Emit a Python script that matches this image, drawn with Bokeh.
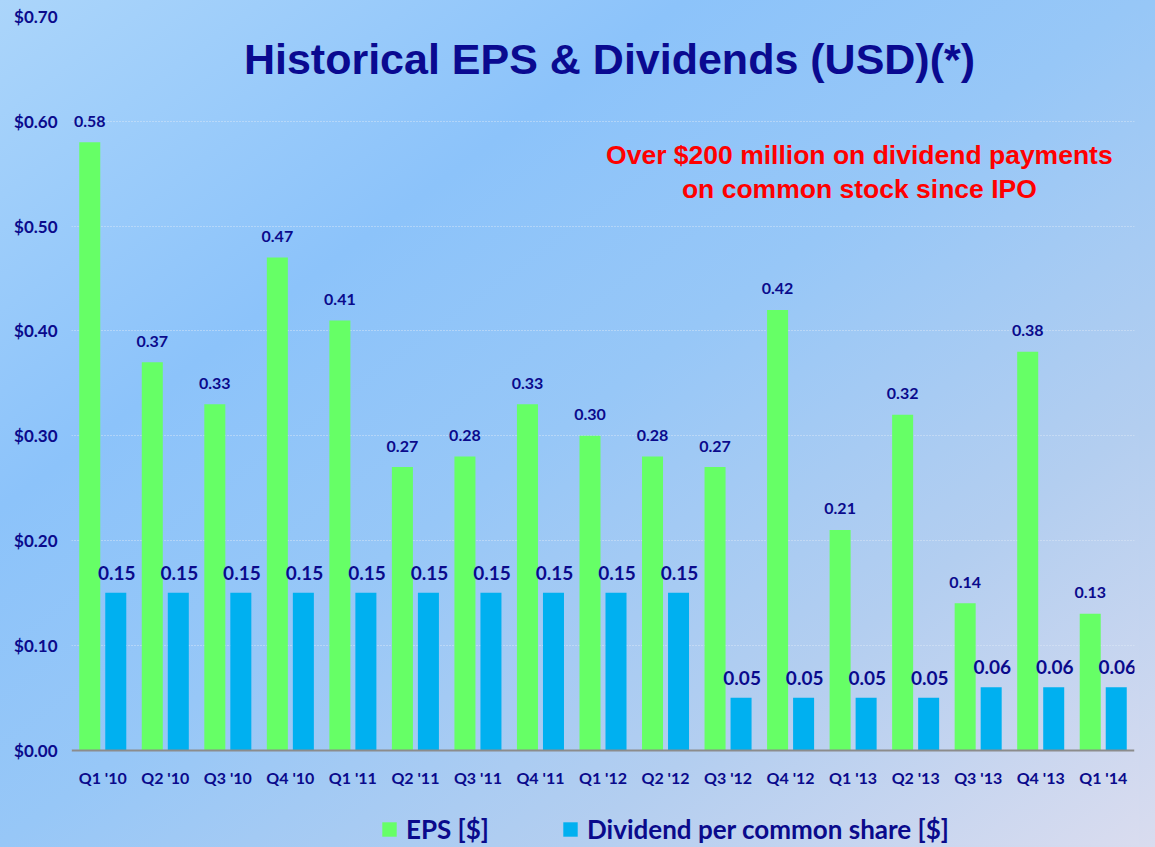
from bokeh.plotting import figure
from bokeh.models import (ColumnDataSource, FactorRange, Range1d, FixedTicker, Label,
                          Legend, LegendItem)
from bokeh.transform import dodge
from bokeh.core.properties import value
from bokeh.embed import file_html
from bokeh.resources import INLINE

try:
    from bokeh.models import GlobalInlineStyleSheet
except ImportError:
    GlobalInlineStyleSheet = None

# ---------------- data ----------------
quarters = ["Q1 '10", "Q2 '10", "Q3 '10", "Q4 '10", "Q1 '11", "Q2 '11", "Q3 '11", "Q4 '11",
            "Q1 '12", "Q2 '12", "Q3 '12", "Q4 '12", "Q1 '13", "Q2 '13", "Q3 '13", "Q4 '13", "Q1 '14"]
eps = [0.58, 0.37, 0.33, 0.47, 0.41, 0.27, 0.28, 0.33, 0.30, 0.28, 0.27, 0.42, 0.21, 0.32, 0.14, 0.38, 0.13]
dividends = [0.15, 0.15, 0.15, 0.15, 0.15, 0.15, 0.15, 0.15, 0.15, 0.15, 0.05, 0.05, 0.05, 0.05, 0.06, 0.06, 0.06]
y_ticks = [0.0, 0.1, 0.2, 0.3, 0.4, 0.5, 0.6, 0.7]
y_tick_labels = ["$0.00", "$0.10", "$0.20", "$0.30", "$0.40", "$0.50", "$0.60", "$0.70"]
title_text = "Historical EPS & Dividends (USD)(*)"
note_lines = ["Over $200 million on dividend payments", "on common stock since IPO"]
legend_labels = ["EPS [$]", "Dividend per common share [$]"]

# ---------------- styles ----------------
NAVY = "#0A0A8C"
GREEN = "#66FF66"
BLUE = "#00B0F0"
GRADIENT = ("linear-gradient(to bottom right, #ABD5FA 0%, #8CC3FA 30%, #97C7F7 50%, "
            "#B3CEF0 75%, #D9DCEF 100%)")

src = ColumnDataSource(dict(
    q=quarters, eps=eps, div=dividends,
    eps_lbl=[f"{v:.2f}" for v in eps],
    div_lbl=[f"{v:.2f}" for v in dividends],
))

# frame spans down to the figure bottom so the legend (drawn inside the frame
# area below the zero line) is not clipped; the x axis is pinned at y = 0.
p = figure(x_range=FactorRange(factors=quarters, range_padding=0),
           y_range=Range1d(-0.0911, 0.7),
           width=1139, height=845, output_backend="svg", toolbar_location=None,
           min_border_left=71, min_border_right=5, min_border_top=16, min_border_bottom=0)

p.background_fill_color = None
p.border_fill_color = None
p.outline_line_color = None
p.styles = {"background": GRADIENT}
if GlobalInlineStyleSheet is not None:
    p.stylesheets = [GlobalInlineStyleSheet(
        css="html, body { background: " + GRADIENT + "; min-height: 100%; }")]

r_eps = p.vbar(x=dodge('q', -0.208, range=p.x_range), top='eps', width=0.336, source=src,
               fill_color=GREEN, line_color=None)
r_div = p.vbar(x=dodge('q', 0.208, range=p.x_range), top='div', width=0.336, source=src,
               fill_color=BLUE, line_color=None)

p.text(x=dodge('q', -0.208, range=p.x_range), y='eps', text='eps_lbl', source=src,
       text_align='center', text_baseline='middle', y_offset=-21,
       text_font=value("Lato"), text_font_style="bold", text_font_size="16px", text_color=NAVY)
p.text(x=dodge('q', 0.225, range=p.x_range), y='div', text='div_lbl', source=src,
       text_align='center', text_baseline='middle', y_offset=-20,
       text_font=value("Lato"), text_font_style="bold", text_font_size="19px", text_color=NAVY)

# axes
p.xaxis.fixed_location = 0
p.xaxis.axis_line_color = "#8C8C8C"
p.xaxis.axis_line_width = 2
p.xaxis.major_tick_line_color = None
p.xaxis.minor_tick_line_color = None
p.xaxis.major_tick_in = 0
p.xaxis.major_tick_out = 0
p.xaxis.major_label_standoff = 18
p.xaxis.major_label_text_font = "Lato"
p.xaxis.major_label_text_font_style = "bold"
p.xaxis.major_label_text_font_size = "16px"
p.xaxis.major_label_text_color = NAVY

p.yaxis.ticker = FixedTicker(ticks=y_ticks)
p.yaxis.major_label_overrides = {t: l for t, l in zip(y_ticks, y_tick_labels)}
p.yaxis.axis_line_color = None
p.yaxis.major_tick_line_color = None
p.yaxis.minor_tick_line_color = None
p.yaxis.major_tick_in = 0
p.yaxis.major_tick_out = 0
p.yaxis.major_label_standoff = 14
p.yaxis.major_label_text_font = "Lato"
p.yaxis.major_label_text_font_style = "bold"
p.yaxis.major_label_text_font_size = "17px"
p.yaxis.major_label_text_color = NAVY

p.xgrid.grid_line_color = None
p.ygrid.ticker = FixedTicker(ticks=y_ticks)
p.ygrid.grid_line_color = "#E2ECF8"
p.ygrid.grid_line_alpha = 0.85
p.ygrid.grid_line_dash = "1 2"
p.ygrid.grid_line_width = 1

# title & note
p.add_layout(Label(x=8.604, y=0.6599, text=title_text, text_align="center",
                   text_baseline="middle", text_font="Liberation Sans",
                   text_font_style="bold", text_font_size="43px", text_color="#0A0A90"))
p.add_layout(Label(x=12.6, y=0.5678, text=note_lines[0], text_align="center",
                   text_baseline="middle", text_font="Liberation Sans",
                   text_font_style="bold", text_font_size="26.5px", text_color="#FF0000"))
p.add_layout(Label(x=12.6, y=0.5354, text=note_lines[1], text_align="center",
                   text_baseline="middle", text_font="Liberation Sans",
                   text_font_style="bold", text_font_size="26.5px", text_color="#FF0000"))

legend = Legend(items=[LegendItem(label=legend_labels[0], renderers=[r_eps]),
                       LegendItem(label=legend_labels[1], renderers=[r_div])],
                orientation="horizontal", location=(309, 0))
legend.glyph_width = 18
legend.glyph_height = 18
legend.label_standoff = 8
legend.spacing = 72
legend.padding = 0
legend.margin = 0
legend.background_fill_alpha = 0
legend.border_line_color = None
legend.label_text_font = "Lato"
legend.label_text_font_style = "bold"
legend.label_text_font_size = "26px"
legend.label_text_color = NAVY
p.add_layout(legend, "center")

open("out.html", "w").write(file_html(p, INLINE))
